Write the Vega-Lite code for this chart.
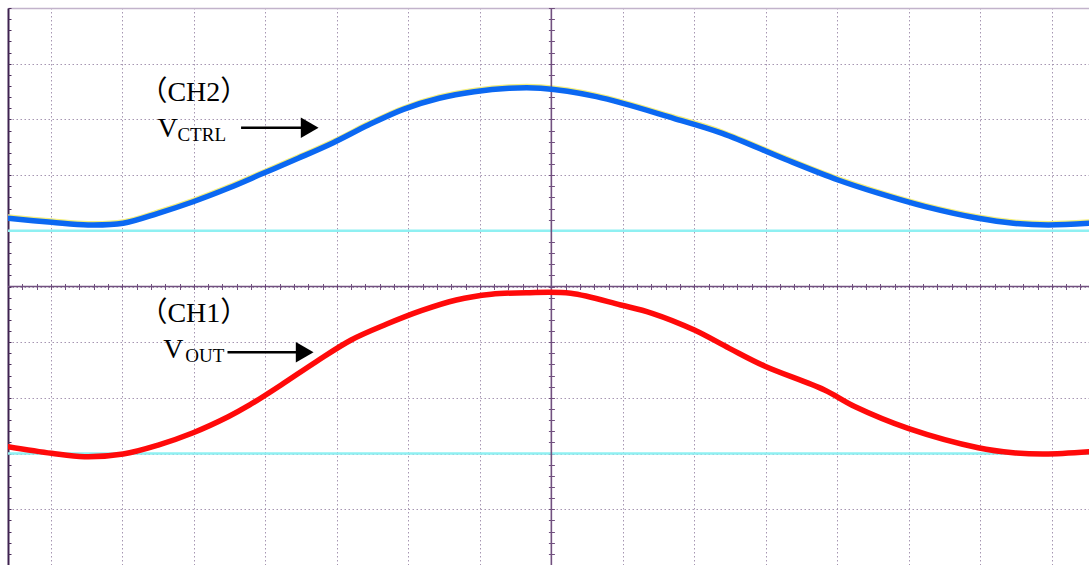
{
  "$schema": "https://vega.github.io/schema/vega-lite/v6.json",
  "width": 1081,
  "height": 557,
  "autosize": {"type": "none"},
  "padding": {"left": 8, "top": 8, "right": 0, "bottom": 0},
  "background": "white",
  "config": {"view": {"stroke": null}, "axis": {"labels": false, "title": null}},
  "datasets": {
    "curves": [
      {"ch": "CH2", "x": -7.60, "y": 1.224},
      {"ch": "CH2", "x": -6.99, "y": 1.153},
      {"ch": "CH2", "x": -6.48, "y": 1.104},
      {"ch": "CH2", "x": -5.99, "y": 1.135},
      {"ch": "CH2", "x": -5.50, "y": 1.314},
      {"ch": "CH2", "x": -5.01, "y": 1.522},
      {"ch": "CH2", "x": -4.52, "y": 1.763},
      {"ch": "CH2", "x": -4.03, "y": 2.032},
      {"ch": "CH2", "x": -3.54, "y": 2.302},
      {"ch": "CH2", "x": -3.05, "y": 2.582},
      {"ch": "CH2", "x": -2.56, "y": 2.899},
      {"ch": "CH2", "x": -2.07, "y": 3.181},
      {"ch": "CH2", "x": -1.57, "y": 3.379},
      {"ch": "CH2", "x": -1.08, "y": 3.497},
      {"ch": "CH2", "x": -0.59, "y": 3.558},
      {"ch": "CH2", "x": -0.15, "y": 3.558},
      {"ch": "CH2", "x": 0.63, "y": 3.408},
      {"ch": "CH2", "x": 1.71, "y": 3.020},
      {"ch": "CH2", "x": 2.39, "y": 2.750},
      {"ch": "CH2", "x": 3.27, "y": 2.284},
      {"ch": "CH2", "x": 4.01, "y": 1.912},
      {"ch": "CH2", "x": 4.55, "y": 1.684},
      {"ch": "CH2", "x": 5.23, "y": 1.433},
      {"ch": "CH2", "x": 5.97, "y": 1.224},
      {"ch": "CH2", "x": 6.46, "y": 1.135},
      {"ch": "CH2", "x": 6.95, "y": 1.104},
      {"ch": "CH2", "x": 7.52, "y": 1.135},
      {"ch": "CH1", "x": -7.60, "y": -2.876},
      {"ch": "CH1", "x": -6.99, "y": -2.995},
      {"ch": "CH1", "x": -6.53, "y": -3.056},
      {"ch": "CH1", "x": -5.99, "y": -3.007},
      {"ch": "CH1", "x": -5.50, "y": -2.846},
      {"ch": "CH1", "x": -5.01, "y": -2.625},
      {"ch": "CH1", "x": -4.52, "y": -2.338},
      {"ch": "CH1", "x": -4.22, "y": -2.127},
      {"ch": "CH1", "x": -3.78, "y": -1.768},
      {"ch": "CH1", "x": -3.29, "y": -1.350},
      {"ch": "CH1", "x": -2.80, "y": -0.960},
      {"ch": "CH1", "x": -2.31, "y": -0.679},
      {"ch": "CH1", "x": -1.82, "y": -0.434},
      {"ch": "CH1", "x": -1.33, "y": -0.242},
      {"ch": "CH1", "x": -0.84, "y": -0.140},
      {"ch": "CH1", "x": -0.35, "y": -0.111},
      {"ch": "CH1", "x": 0.27, "y": -0.122},
      {"ch": "CH1", "x": 0.97, "y": -0.332},
      {"ch": "CH1", "x": 1.41, "y": -0.481},
      {"ch": "CH1", "x": 2.00, "y": -0.781},
      {"ch": "CH1", "x": 2.49, "y": -1.110},
      {"ch": "CH1", "x": 2.98, "y": -1.427},
      {"ch": "CH1", "x": 3.82, "y": -1.858},
      {"ch": "CH1", "x": 4.25, "y": -2.158},
      {"ch": "CH1", "x": 4.99, "y": -2.546},
      {"ch": "CH1", "x": 5.97, "y": -2.894},
      {"ch": "CH1", "x": 6.46, "y": -2.984},
      {"ch": "CH1", "x": 6.90, "y": -3.007},
      {"ch": "CH1", "x": 7.52, "y": -2.966}
    ],
    "refs": [{"y": 1}, {"y": -3}],
    "center": [{"v": 0}],
    "notes": [
      {"role": "head", "text": "（CH2）", "x": -5.0, "y": 3.33},
      {"role": "head", "text": "（CH1）", "x": -5.0, "y": -0.64},
      {"role": "v", "text": "V", "x": -5.51, "y": 2.68},
      {"role": "v", "text": "V", "x": -5.43, "y": -1.28},
      {"role": "sub", "text": "CTRL", "x": -5.23, "y": 2.61},
      {"role": "sub", "text": "OUT", "x": -5.12, "y": -1.36}
    ],
    "arrows": [
      {"x": -4.34, "x2": -3.38, "y": 2.85},
      {"x": -4.53, "x2": -3.45, "y": -1.18}
    ]
  },
  "layer": [
    {
      "data": {"name": "curves"},
      "transform": [{"filter": "datum.ch === 'CH2'"}],
      "mark": {"type": "line", "color": "#f3ee7a", "strokeWidth": 2, "yOffset": -3, "interpolate": "catmull-rom", "clip": true},
      "encoding": {
        "x": {"field": "x", "type": "quantitative", "scale": {"domain": [-7.6, 7.52], "nice": false, "zero": false},
          "axis": {"orient": "top", "values": [-7, -6, -5, -4, -3, -2, -1, 0, 1, 2, 3, 4, 5, 6, 7], "grid": true, "gridColor": "#a696b2", "gridDash": [1.5, 2.5], "gridWidth": 1, "domain": true, "domainColor": "#c2b3cb", "domainWidth": 1.5, "ticks": false, "labels": false, "title": null}},
        "y": {"field": "y", "type": "quantitative", "scale": {"domain": [-5, 5], "nice": false, "zero": false},
          "axis": {"orient": "left", "values": [-5, -4, -3, -2, -1, 0, 1, 2, 3, 4, 5], "grid": true, "gridColor": "#a696b2", "gridDash": [1.5, 2.5], "gridWidth": 1, "domain": true, "domainColor": "#3e2250", "domainWidth": 2, "ticks": false, "labels": false, "title": null}}
      }
    },
    {
      "data": {"name": "refs"},
      "mark": {"type": "rule", "color": "#8ff0f2", "strokeWidth": 2.5},
      "encoding": {
        "y": {"field": "y", "type": "quantitative", "scale": {"domain": [-5, 5], "nice": false, "zero": false},
          "axis": {"orient": "right", "offset": -1081, "values": [-5,-4.8,-4.6,-4.4,-4.2,-4,-3.8,-3.6,-3.4,-3.2,-3,-2.8,-2.6,-2.4,-2.2,-2,-1.8,-1.6,-1.4,-1.2,-1,-0.8,-0.6,-0.4,-0.2,0,0.2,0.4,0.6,0.8,1,1.2,1.4,1.6,1.8,2,2.2,2.4,2.6,2.8,3,3.2,3.4,3.6,3.8,4,4.2,4.4,4.6,4.8,5], "grid": false, "domain": false, "ticks": true, "tickSize": 3, "tickColor": "#4a2d5a", "tickWidth": 1, "labels": false, "title": null}}
      }
    },
    {
      "data": {"name": "center"},
      "mark": {"type": "rule", "color": "#71507f", "strokeWidth": 1.6},
      "encoding": {
        "x": {"field": "v", "type": "quantitative", "scale": {"domain": [-7.6, 7.52], "nice": false, "zero": false},
          "axis": {"orient": "top", "offset": -281.5, "values": [-7.4,-7.2,-7,-6.8,-6.6,-6.4,-6.2,-6,-5.8,-5.6,-5.4,-5.2,-5,-4.8,-4.6,-4.4,-4.2,-4,-3.8,-3.6,-3.4,-3.2,-3,-2.8,-2.6,-2.4,-2.2,-2,-1.8,-1.6,-1.4,-1.2,-1,-0.8,-0.6,-0.4,-0.2,0,0.2,0.4,0.6,0.8,1,1.2,1.4,1.6,1.8,2,2.2,2.4,2.6,2.8,3,3.2,3.4,3.6,3.8,4,4.2,4.4,4.6,4.8,5,5.2,5.4,5.6,5.8,6,6.2,6.4,6.6,6.8,7,7.2,7.4], "grid": false, "domain": false, "ticks": true, "tickSize": 6, "tickColor": "#71507f", "tickWidth": 1, "labels": false, "title": null}}
      }
    },
    {
      "data": {"name": "center"},
      "mark": {"type": "rule", "color": "#71507f", "strokeWidth": 1.6},
      "encoding": {
        "y": {"field": "v", "type": "quantitative", "scale": {"domain": [-5, 5], "nice": false, "zero": false},
          "axis": {"orient": "left", "offset": -546.4, "values": [-5,-4.8,-4.6,-4.4,-4.2,-4,-3.8,-3.6,-3.4,-3.2,-3,-2.8,-2.6,-2.4,-2.2,-2,-1.8,-1.6,-1.4,-1.2,-1,-0.8,-0.6,-0.4,-0.2,0,0.2,0.4,0.6,0.8,1,1.2,1.4,1.6,1.8,2,2.2,2.4,2.6,2.8,3,3.2,3.4,3.6,3.8,4,4.2,4.4,4.6,4.8,5], "grid": false, "domain": false, "ticks": true, "tickSize": 6, "tickColor": "#71507f", "tickWidth": 1, "labels": false, "title": null}}
      }
    },
    {
      "data": {"name": "curves"},
      "mark": {"type": "line", "strokeWidth": 5.5, "interpolate": "catmull-rom", "strokeCap": "round", "clip": true},
      "encoding": {
        "x": {"field": "x", "type": "quantitative", "scale": {"domain": [-7.6, 7.52], "nice": false, "zero": false}, "axis": null},
        "y": {"field": "y", "type": "quantitative", "scale": {"domain": [-5, 5], "nice": false, "zero": false}, "axis": null},
        "color": {"field": "ch", "type": "nominal", "scale": {"domain": ["CH1", "CH2"], "range": ["#ff0a0a", "#0b68f2"]}, "legend": null}
      }
    },
    {
      "data": {"name": "arrows"},
      "mark": {"type": "rule", "color": "black", "strokeWidth": 2.5},
      "encoding": {
        "x": {"field": "x", "type": "quantitative", "scale": {"domain": [-7.6, 7.52], "nice": false, "zero": false}, "axis": null},
        "x2": {"field": "x2"},
        "y": {"field": "y", "type": "quantitative", "scale": {"domain": [-5, 5], "nice": false, "zero": false}, "axis": null}
      }
    },
    {
      "data": {"name": "arrows"},
      "mark": {"type": "point", "shape": "triangle-right", "filled": true, "color": "black", "opacity": 1, "size": 420},
      "encoding": {
        "x": {"field": "x2", "type": "quantitative", "scale": {"domain": [-7.6, 7.52], "nice": false, "zero": false}, "axis": null},
        "y": {"field": "y", "type": "quantitative", "scale": {"domain": [-5, 5], "nice": false, "zero": false}, "axis": null}
      }
    },
    {
      "data": {"name": "notes"},
      "transform": [{"filter": "datum.role === 'head'"}],
      "mark": {"type": "text", "font": "Liberation Serif, Noto Sans CJK SC", "fontSize": 28, "color": "black", "align": "center", "baseline": "alphabetic"},
      "encoding": {
        "x": {"field": "x", "type": "quantitative", "scale": {"domain": [-7.6, 7.52], "nice": false, "zero": false}, "axis": null},
        "y": {"field": "y", "type": "quantitative", "scale": {"domain": [-5, 5], "nice": false, "zero": false}, "axis": null},
        "text": {"field": "text"}
      }
    },
    {
      "data": {"name": "notes"},
      "transform": [{"filter": "datum.role === 'v'"}],
      "mark": {"type": "text", "font": "Liberation Serif", "fontSize": 28, "color": "black", "align": "left", "baseline": "alphabetic"},
      "encoding": {
        "x": {"field": "x", "type": "quantitative", "scale": {"domain": [-7.6, 7.52], "nice": false, "zero": false}, "axis": null},
        "y": {"field": "y", "type": "quantitative", "scale": {"domain": [-5, 5], "nice": false, "zero": false}, "axis": null},
        "text": {"field": "text"}
      }
    },
    {
      "data": {"name": "notes"},
      "transform": [{"filter": "datum.role === 'sub'"}],
      "mark": {"type": "text", "font": "Liberation Serif", "fontSize": 19, "color": "black", "align": "left", "baseline": "alphabetic"},
      "encoding": {
        "x": {"field": "x", "type": "quantitative", "scale": {"domain": [-7.6, 7.52], "nice": false, "zero": false}, "axis": null},
        "y": {"field": "y", "type": "quantitative", "scale": {"domain": [-5, 5], "nice": false, "zero": false}, "axis": null},
        "text": {"field": "text"}
      }
    }
  ],
  "resolve": {"axis": {"x": "independent", "y": "independent"}}
}
